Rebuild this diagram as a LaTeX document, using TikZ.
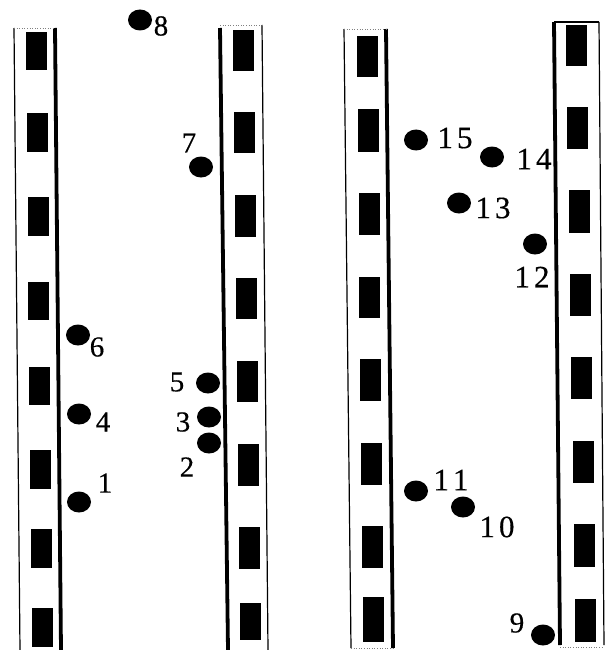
\documentclass[tikz,border=0pt]{standalone}
\usepackage{fontspec}
\setmainfont{Liberation Serif}
\newfontfamily\lblfont{Liberation Serif}[FakeBold=0.4]
\usetikzlibrary{shapes.geometric}
\begin{document}
\begin{tikzpicture}[x=1pt,y=-1pt,
  dotnode/.style={ellipse,fill=black,inner sep=0pt,minimum width=24pt,minimum height=21pt},
  lbl/.style={inner sep=0pt,font=\lblfont\fontsize{29}{29}\selectfont},
  lbltwo/.style={inner sep=0pt,font=\lblfont\fontsize{31}{31}\selectfont},
  thinline/.style={line width=1.2pt},
  thickline/.style={line width=3.8pt},
  topline/.style={line width=0.6pt,gray,dotted}]
\useasboundingbox (0,0) rectangle (605,650);
% strip 1
\draw[thinline] (14,28) -- (20,650);
\draw[thickline] (55,28) -- (61,650);
\draw[topline] (14,28) -- (55,28);
\foreach \a/\b in {32/70,113/152,197/236,282/320,367/405,450/489,529/568,608/647}
  \fill ({26+6*(\a-32)/615},\a) rectangle ++(21,{\b-\a});
% strip 2
\draw[thickline] (220,28) -- (228,650);
\draw[thinline] (262,25) -- (268,650);
\draw[topline] (220,25) -- (262,25);
\foreach \a/\b in {30/71,112/153,195/237,278/319,361/402,444/486,527/569,603/640}
  \fill ({233+7*(\a-30)/610},\a) rectangle ++(21,{\b-\a});
% strip 3
\draw[thinline] (344,29) -- (351,648);
\draw[thickline] (386,29) -- (393,648);
\draw[topline] (344,29) -- (386,29);
\draw[topline] (351,648) -- (393,648);
\foreach \a/\b in {36/77,109/152,193/235,277/318,359/401,443/485,526/568,597/642}
  \fill ({357+6*(\a-36)/606},\a) rectangle ++(21,{\b-\a});
% strip 4
\draw[thickline] (554,22) -- (560,645);
\draw[thinline] (599,22) -- (604,645);
\draw[thinline] (554,22) -- (599,22);
\draw[topline] (560,647) -- (604,647);
\foreach \a/\b in {25/66,107/149,190/233,274/316,357/399,441/483,524/567,599/642}
  \fill ({566+10*(\a-25)/617},\a) rectangle ++(21,{\b-\a});
% dots
\node[dotnode] (d1) at (79,502) {};
\node[dotnode] (d2) at (209,443) {};
\node[dotnode] (d3) at (209,417) {};
\node[dotnode] (d4) at (79,414) {};
\node[dotnode] (d5) at (208,383) {};
\node[dotnode] (d6) at (78,335) {};
\node[dotnode] (d7) at (201,167) {};
\node[dotnode] (d8) at (140,20) {};
\node[dotnode] (d9) at (543,635) {};
\node[dotnode] (d10) at (463,507) {};
\node[dotnode] (d11) at (416,491) {};
\node[dotnode] (d12) at (535,244) {};
\node[dotnode] (d13) at (459,203) {};
\node[dotnode] (d14) at (492,157) {};
\node[dotnode] (d15) at (416,140) {};
% labels
\node[lbl] (l1) at (105,483) {1};
\node[lbl] (l2) at (187,467) {2};
\node[lbl] (l3) at (183,422) {3};
\node[lbl] (l4) at (103,422) {4};
\node[lbl] (l5) at (177,382) {5};
\node[lbl] (l6) at (97,347) {6};
\node[lbl] (l7) at (189,143) {7};
\node[lbl] (l8) at (161,26) {8};
\node[lbl] (l9) at (517,623) {9};
\node[lbltwo] (l10) at (497,527) {1\kern4pt0};
\node[lbltwo] (l11) at (451,480) {1\kern4pt1};
\node[lbltwo] (l12) at (532,277) {1\kern4pt2};
\node[lbltwo] (l13) at (493,208) {1\kern4pt3};
\node[lbltwo] (l14) at (534,159) {1\kern4pt4};
\node[lbltwo] (l15) at (455,138) {1\kern4pt5};
\end{tikzpicture}
\end{document}
